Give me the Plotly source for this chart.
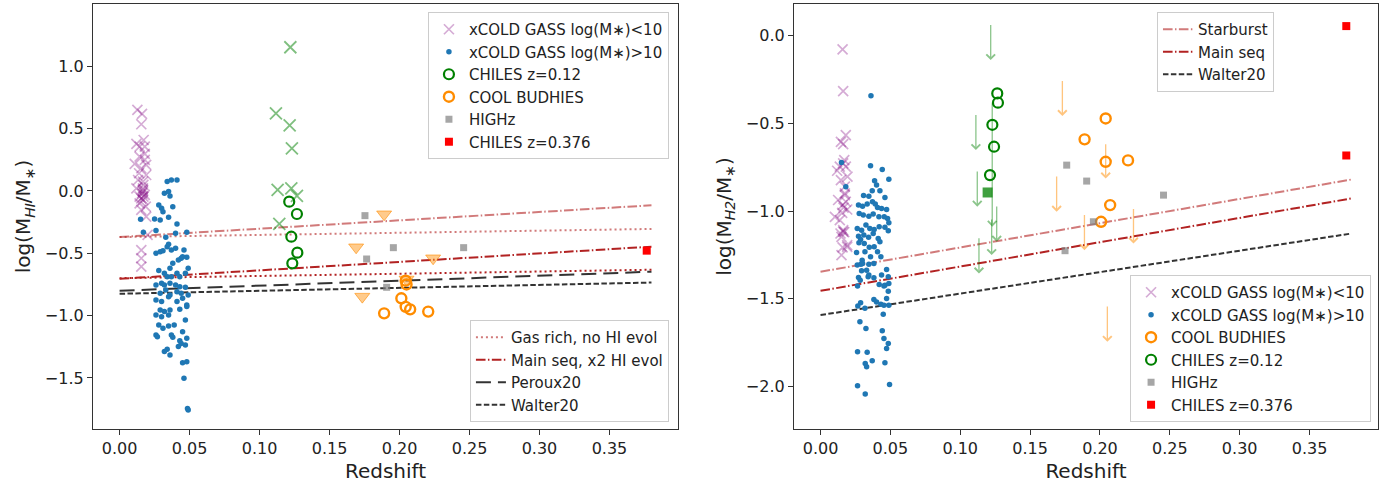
import plotly.graph_objects as go

# ---------------- LEFT PANEL DATA (HI) ----------------
xcg_lo_z_L = [0.0127,0.0160,0.0155,0.0172,0.0120,0.0143,0.0180,0.0143,0.0108,0.0190,0.0139,0.0190,0.0167,0.0120,0.0167,0.0167,0.0180,0.0143,0.0167,0.0155,0.0190,0.0200,0.0155,0.0155,0.0155,0.0180,0.0180,0.0155,0.0132,0.0170,0.0160,0.0170,0.0143,0.0187,0.0167,0.0155]
xcg_lo_y_L = [0.650,0.618,0.535,0.409,0.377,0.356,0.297,0.276,0.217,0.209,0.142,0.128,0.075,0.021,0.021,-0.005,-0.032,-0.045,-0.072,-0.152,-0.206,-0.353,-0.474,-0.540,-0.607,0.356,0.249,0.182,0.088,0.048,-0.019,-0.045,-0.099,-0.126,0.008,-0.059]

xcg_hi_z_L = [0.034,0.037,0.041,0.032,0.035,0.036,0.015,0.017,0.026,0.025,0.028,0.030,0.031,0.029,0.035,0.038,0.041,0.048,0.040,0.033,
              0.026,0.029,0.031,0.034,0.035,0.037,0.040,0.046,0.045,0.048,0.044,0.042,0.038,0.036,0.032,0.028,0.034,0.037,0.041,0.043,
              0.047,0.049,0.026,0.030,0.032,0.036,0.040,0.043,0.047,0.029,0.033,0.036,0.041,0.044,0.049,0.026,0.030,0.035,0.041,0.045,
              0.048,0.029,0.032,0.036,0.043,0.026,0.030,0.035,0.048,0.047,0.028,0.031,0.035,0.039,0.026,0.027,0.037,0.038,0.045,0.048,
              0.043,0.042,0.044,0.047,0.032,0.034,0.036,0.045,0.048,0.046,0.049,0.0485]
xcg_hi_y_L = [0.075,0.088,0.088,-0.019,-0.005,-0.040,-0.227,-0.332,-0.318,-0.225,-0.112,-0.139,-0.166,-0.233,-0.211,-0.126,-0.265,-0.332,-0.340,-0.372,
              -0.500,-0.487,-0.479,-0.447,-0.428,-0.474,-0.460,-0.474,-0.527,-0.532,-0.540,-0.554,-0.581,-0.621,-0.661,-0.639,-0.688,-0.688,-0.661,-0.688,
              -0.661,-0.621,-0.754,-0.741,-0.754,-0.741,-0.754,-0.768,-0.773,-0.821,-0.795,-0.835,-0.808,-0.821,-0.835,-0.875,-0.888,-0.848,-0.888,-0.861,
              -0.915,-0.955,-0.968,-0.955,-0.950,-0.995,-1.009,-0.995,-0.928,-1.035,-1.075,-1.102,-1.083,-1.075,-1.156,-1.169,-1.156,-1.174,-1.129,-1.182,
              -1.201,-1.249,-1.223,-1.236,-1.289,-1.271,-1.316,-1.378,-1.370,-1.503,-1.758,-1.745]

chiles_x_z = [0.1220,0.1117,0.1215,0.1231,0.1129,0.1227,0.1267,0.1141]
chiles_x_y = [1.153,0.623,0.527,0.342,0.008,0.021,-0.040,-0.265]
chiles_o_z_L = [0.1212,0.1267,0.1227,0.1270,0.1234]
chiles_o_y_L = [-0.086,-0.185,-0.367,-0.495,-0.581]

budhies_tri_z = [0.189,0.169,0.1734,0.224,0.205]
budhies_tri_y = [-0.187,-0.452,-0.848,-0.540,-0.710]
budhies_o_z_L = [0.189,0.2013,0.2044,0.2076,0.2205,0.2044,0.2050]
budhies_o_y_L = [-0.982,-0.861,-0.930,-0.950,-0.968,-0.720,-0.750]

highz_z_L = [0.1753,0.1765,0.1908,0.1956,0.2458]
highz_y_L = [-0.198,-0.546,-0.773,-0.455,-0.455]

chiles376_z_L = [0.3766]
chiles376_y_L = [-0.479]

line_z = [0.0, 0.38]
gasrich_x2_L = [-0.370, -0.115]
gasrich_noevol_L = [-0.370, -0.305]
mainseq_x2_L = [-0.705, -0.447]
mainseq_noevol_L = [-0.700, -0.632]
peroux20_L = [-0.800, -0.648]
walter20_L = [-0.825, -0.735]

# ---------------- RIGHT PANEL DATA (H2) ----------------
xcg_lo_z_R = [0.0158,0.0162,0.0181,0.0146,0.0162,0.0170,0.0138,0.0162,0.0119,0.0193,0.0146,0.0174,0.0174,0.0126,0.0181,0.0158,0.0191,0.0103,0.0138,0.0162,
              0.0143,0.0150,0.0191,0.0158,0.0191,0.0150,0.0174,0.0181,0.0162,0.0165,0.0155,0.0170]
xcg_lo_y_R = [-0.078,-0.316,-0.567,-0.605,-0.618,-0.709,-0.747,-0.728,-0.770,-0.804,-0.823,-0.861,-0.899,-0.937,-0.947,-0.966,-0.991,-1.033,-1.052,-1.109,
              -1.128,-1.147,-1.194,-1.207,-1.204,-1.251,-0.909,-0.747,-1.118,-0.980,-1.010,-1.120]

xcg_hi_z_R = [0.0361,0.0150,0.0358,0.0442,0.0489,0.0181,0.0387,0.0401,0.0370,0.0425,0.0308,0.0346,0.0461,0.0272,0.0301,0.0334,0.0372,0.0392,0.0408,0.0437,
              0.0473,0.0480,0.0489,0.0277,0.0306,0.0346,0.0377,0.0418,0.0456,0.0461,0.0485,0.0263,0.0294,0.0325,0.0353,0.0384,0.0420,0.0272,0.0287,0.0310,
              0.0344,0.0377,0.0413,0.0425,0.0275,0.0313,0.0349,0.0384,0.0408,0.0318,0.0358,0.0432,0.0301,0.0346,0.0382,0.0298,0.0263,0.0473,0.0437,0.0485,
              0.0341,0.0382,0.0272,0.0294,0.0330,0.0420,0.0461,0.0489,0.0454,0.0485,0.0284,0.0265,0.0346,0.0473,0.0382,0.0401,0.0432,0.0454,0.0489,0.0267,
              0.0287,0.0318,0.0449,0.0282,0.0325,0.0442,0.0454,0.0485,0.0473,0.0265,0.0334,0.0370,0.0320,0.0330,0.0461,0.0265,0.0320,0.0494,0.0289,0.0258]
xcg_hi_y_R = [-0.342,-0.723,-0.742,-0.763,-0.818,-0.861,-0.827,-0.852,-0.884,-0.884,-0.911,-0.915,-0.922,-0.966,-0.972,-0.960,-0.947,-0.960,-0.979,-0.985,
              -0.991,-1.042,-1.067,-1.014,-1.023,-1.029,-1.017,-1.033,-1.033,-1.093,-1.112,-1.099,-1.109,-1.080,-1.099,-1.105,-1.090,-1.143,-1.162,-1.137,
              -1.150,-1.128,-1.156,-1.175,-1.181,-1.185,-1.207,-1.204,-1.232,-1.232,-1.261,-1.261,-1.299,-1.303,-1.299,-1.280,-1.308,-1.333,-1.365,-1.375,
              -1.375,-1.381,-1.379,-1.341,-1.337,-1.419,-1.423,-1.413,-1.428,-1.457,-1.394,-1.428,-1.365,-1.498,-1.504,-1.519,-1.531,-1.537,-1.537,-1.542,
              -1.523,-1.555,-1.588,-1.631,-1.670,-1.683,-1.727,-1.755,-1.784,-1.803,-1.805,-1.854,-1.869,-1.888,-1.865,-1.997,-2.044,-1.989,-1.303,-1.236]

chiles_o_z_R = [0.1265,0.1270,0.1230,0.1242,0.1213]
chiles_o_y_R = [-0.329,-0.382,-0.508,-0.633,-0.795]
chiles_sq_z_R = [0.1196]
chiles_sq_y_R = [-0.894]

# upper limits: x, top of arrow, tip of arrow
chiles_lim_z = [0.1218,0.1112,0.1122,0.1229,0.1225,0.1261,0.1134]
chiles_lim_top = [0.070,-0.443,-0.766,-0.376,-1.040,-0.966,-1.146]
chiles_lim_tip = [-0.139,-0.652,-0.975,-1.089,-1.251,-1.175,-1.356]

budhies_o_z_R = [0.2041,0.1890,0.2041,0.2201,0.2073,0.2008]
budhies_o_y_R = [-0.472,-0.591,-0.719,-0.711,-0.966,-1.061]
budhies_lim_z = [0.1731,0.1690,0.2041,0.1889,0.2240,0.2053]
budhies_lim_top = [-0.249,-0.795,-0.610,-1.014,-0.979,-1.536]
budhies_lim_tip = [-0.458,-1.004,-0.814,-1.223,-1.185,-1.746]

highz_z_R = [0.1762,0.1905,0.1953,0.2455,0.1750]
highz_y_R = [-0.738,-0.829,-1.061,-0.909,-1.226]

chiles376_z_R = [0.3763,0.3763]
chiles376_y_R = [0.055,-0.683]

starburst_R = [-1.346, -0.820]
mainseq_R = [-1.455, -0.928]
walter20_R = [-1.593, -1.128]

x_ticks = [0.0, 0.05, 0.10, 0.15, 0.20, 0.25, 0.30, 0.35]
y_ticks_L = [-1.5, -1.0, -0.5, 0.0, 0.5, 1.0]
y_ticks_R = [-2.0, -1.5, -1.0, -0.5, 0.0]

# ---------------- STYLES ----------------
FONT = "DejaVu Sans"
PURPLE_A = "rgba(128,0,128,0.33)"
BLUE = "#1f77b4"
GREEN = "#008000"
GREEN_A = "rgba(0,128,0,0.5)"
ORANGE = "#ff8c00"
ORANGE_A = "rgba(255,140,0,0.45)"
GRAY_A = "rgba(128,128,128,0.7)"
LIGHTRED = "rgba(178,34,34,0.6)"
DARKRED = "#b22222"
BLACK_A = "rgba(0,0,0,0.8)"

DOT = "2px,3px"
DASHDOT = "9.6px,2.4px,1.5px,2.4px"
DASH = "5.5px,2.4px"
LONGDASH = "15px,7px"

fig = go.Figure()

def sc(x, y, xa, ya, name, marker, legend="legend", show=True):
    fig.add_trace(go.Scatter(x=x, y=y, xaxis=xa, yaxis=ya, mode="markers", name=name,
                             marker=marker, legend=legend, showlegend=show))

def ln(x, y, xa, ya, name, color, dash, legend="legend", show=True, width=2):
    fig.add_trace(go.Scatter(x=x, y=y, xaxis=xa, yaxis=ya, mode="lines", name=name,
                             line=dict(color=color, dash=dash, width=width), legend=legend, showlegend=show))

m_xlo = dict(symbol="x-thin-open", size=10, color=PURPLE_A, line=dict(width=1.7, color=PURPLE_A))
m_xhi = dict(symbol="circle", size=5.5, color=BLUE, line=dict(width=0))
m_gx = dict(symbol="x-thin-open", size=12, color=GREEN_A, line=dict(width=1.8, color=GREEN_A))
m_go = dict(symbol="circle-open", size=10, color=GREEN, line=dict(width=2.2, color=GREEN))
m_tri = dict(symbol="triangle-down", size=13, color=ORANGE_A, line=dict(width=1, color="rgba(255,140,0,0.6)"))
m_oo = dict(symbol="circle-open", size=10, color=ORANGE, line=dict(width=2.4, color=ORANGE))
m_gr = dict(symbol="square", size=7, color=GRAY_A, line=dict(width=0))
m_red = dict(symbol="square", size=8, color="red", line=dict(width=0))
m_gsq = dict(symbol="square", size=10, color="rgba(0,128,0,0.75)", line=dict(width=0))

# ---- Left panel lines (drawn first, behind points) ----
ln(line_z, gasrich_noevol_L, "x", "y", "Gas rich, no HI evol", LIGHTRED, DOT, legend="legend2")
ln(line_z, mainseq_x2_L, "x", "y", "Main seq, x2 HI evol", DARKRED, DASHDOT, legend="legend2")
ln(line_z, peroux20_L, "x", "y", "Peroux20", BLACK_A, LONGDASH, legend="legend2")
ln(line_z, walter20_L, "x", "y", "Walter20", BLACK_A, DASH, legend="legend2")
ln(line_z, gasrich_x2_L, "x", "y", "gas rich x2", LIGHTRED, DASHDOT, legend="legend2", show=False)
ln(line_z, mainseq_noevol_L, "x", "y", "main seq no evol", DARKRED, DOT, legend="legend2", show=False)

# ---- Left panel points ----
sc(xcg_lo_z_L, xcg_lo_y_L, "x", "y", "xCOLD GASS log(M∗)&lt;10", m_xlo)
sc(xcg_hi_z_L, xcg_hi_y_L, "x", "y", "xCOLD GASS log(M∗)&gt;10", m_xhi)
sc(chiles_o_z_L, chiles_o_y_L, "x", "y", "CHILES z=0.12", m_go)
sc(budhies_o_z_L, budhies_o_y_L, "x", "y", "COOL BUDHIES", m_oo)
sc(highz_z_L, highz_y_L, "x", "y", "HIGHz", m_gr)
sc(chiles376_z_L, chiles376_y_L, "x", "y", "CHILES z=0.376", m_red)
sc(chiles_x_z, chiles_x_y, "x", "y", "CHILES HI", m_gx, show=False)
sc(budhies_tri_z, budhies_tri_y, "x", "y", "BUDHIES HI", m_tri, show=False)

# ---- Right panel lines ----
ln(line_z, starburst_R, "x2", "y2", "Starburst", LIGHTRED, DASHDOT, legend="legend3")
ln(line_z, mainseq_R, "x2", "y2", "Main seq", DARKRED, DASHDOT, legend="legend3")
ln(line_z, walter20_R, "x2", "y2", "Walter20", BLACK_A, DASH, legend="legend3")

# ---- Right panel points ----
sc(xcg_lo_z_R, xcg_lo_y_R, "x2", "y2", "xCOLD GASS log(M∗)&lt;10", m_xlo, legend="legend4")
sc(xcg_hi_z_R, xcg_hi_y_R, "x2", "y2", "xCOLD GASS log(M∗)&gt;10", m_xhi, legend="legend4")
sc(budhies_o_z_R, budhies_o_y_R, "x2", "y2", "COOL BUDHIES", m_oo, legend="legend4")
sc(chiles_o_z_R, chiles_o_y_R, "x2", "y2", "CHILES z=0.12", m_go, legend="legend4")
sc(highz_z_R, highz_y_R, "x2", "y2", "HIGHz", m_gr, legend="legend4")
sc(chiles376_z_R, chiles376_y_R, "x2", "y2", "CHILES z=0.376", m_red, legend="legend4")
sc(chiles_sq_z_R, chiles_sq_y_R, "x2", "y2", "CHILES stack", m_gsq, legend="legend4", show=False)

# ---- Upper-limit arrows (right panel) ----
annotations = []
for zs, tops, tips, col in [(chiles_lim_z, chiles_lim_top, chiles_lim_tip, "rgba(0,128,0,0.45)"),
                            (budhies_lim_z, budhies_lim_top, budhies_lim_tip, "rgba(255,140,0,0.5)")]:
    for z, t, b in zip(zs, tops, tips):
        annotations.append(dict(x=z, y=b, ax=z, ay=t, xref="x2", yref="y2", axref="x2", ayref="y2",
                                text="", showarrow=True, arrowhead=4, arrowsize=1.3, arrowwidth=1.3,
                                arrowcolor=col, standoff=0))

axis_common = dict(showline=True, mirror=True, linecolor="#333333", linewidth=1.2, ticks="outside",
                   ticklen=5, tickcolor="#333333", showgrid=False, zeroline=False,
                   tickfont=dict(family=FONT, size=16, color="#222"))

xt_text = [f"{v:.2f}" for v in x_ticks]
ylt = [f"{v:.1f}".replace("-", "−") for v in y_ticks_L]
yrt = [f"{v:.1f}".replace("-", "−") for v in y_ticks_R]

legend_common = dict(bgcolor="rgba(255,255,255,0.8)", bordercolor="#cccccc", borderwidth=1,
                     font=dict(family=FONT, size=15, color="#222"), tracegroupgap=0)

fig.update_layout(
    width=1395, height=488,
    margin=dict(l=93, r=17, t=4, b=59),
    paper_bgcolor="white", plot_bgcolor="white",
    font=dict(family=FONT, color="#222"),
    xaxis=dict(domain=[0, 0.4553], range=[-0.019, 0.399], tickvals=x_ticks, ticktext=xt_text,
               title=dict(text="Redshift", font=dict(family=FONT, size=20), standoff=6), anchor="y", **axis_common),
    yaxis=dict(domain=[0, 1], range=[-1.91, 1.50], tickvals=y_ticks_L, ticktext=ylt,
               title=dict(text="log(M<sub><i>HI</i></sub>/M<sub>∗</sub>)", font=dict(family=FONT, size=20), standoff=8),
               anchor="x", **axis_common),
    xaxis2=dict(domain=[0.5455, 1.0], range=[-0.019, 0.399], tickvals=x_ticks, ticktext=xt_text,
                title=dict(text="Redshift", font=dict(family=FONT, size=20), standoff=6), anchor="y2", **axis_common),
    yaxis2=dict(domain=[0, 1], range=[-2.243, 0.181], tickvals=y_ticks_R, ticktext=yrt,
                title=dict(text="log(M<sub><i>H2</i></sub>/M<sub>∗</sub>)", font=dict(family=FONT, size=20), standoff=8),
                anchor="x2", **axis_common),
    legend=dict(x=0.4482, y=0.9812, xanchor="right", yanchor="top", **legend_common),
    legend2=dict(x=0.4482, y=0.0165, xanchor="right", yanchor="bottom", **legend_common),
    legend3=dict(x=0.828, y=0.9812, xanchor="left", yanchor="top", **legend_common),
    legend4=dict(x=0.9946, y=0.0165, xanchor="right", yanchor="bottom", **legend_common),
    annotations=annotations,
    showlegend=True,
)

fig.write_html("out.html", config={"displayModeBar": False},
               post_script="document.body.style.margin='0px';")
